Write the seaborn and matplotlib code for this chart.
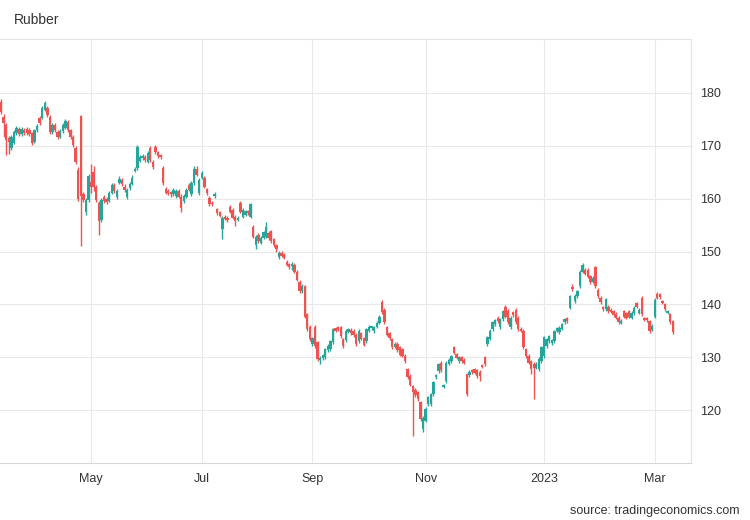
import numpy as np
import pandas as pd
import matplotlib
matplotlib.use("Agg")
import matplotlib.pyplot as plt
import seaborn as sns

# daily candles, Mar 2022 - Mar 2023
opens = [
    178.3, 175.5, 174.0, 171.5, 169.6, 170.6, 172.5, 173.1, 172.2, 173.0,
    173.2, 173.0, 172.4, 170.8, 173.0, 175.3, 175.3, 176.8, 177.2, 175.5,
    172.6, 174.0, 172.6, 171.7, 172.8, 173.4, 174.5, 172.9, 171.7, 169.6,
    165.5, 175.6, 160.8, 157.5, 159.8, 163.2, 165.0, 162.2, 159.2, 156.0,
    160.3, 160.0, 159.6, 161.1, 162.6, 160.4, 163.0, 163.6, 162.3, 160.4,
    162.0, 162.8, 165.3, 165.8, 167.2, 167.6, 167.9, 167.0, 169.6, 167.0,
    169.8, 168.8, 168.2, 165.8, 161.9, 161.5, 161.2, 160.8, 160.5, 161.5,
    160.4, 159.5, 160.4, 162.6, 160.8, 163.0, 165.7, 161.1, 164.0, 164.0,
    161.8, 160.2, 159.2, 160.5, 158.0, 157.4, 154.2, 156.6, 156.4, 158.5,
    157.9, 156.6, 156.0, 159.2, 156.6, 157.0, 157.6, 156.6, 154.7, 151.3,
    153.2, 151.7, 152.6, 152.8, 153.5, 153.8, 152.3, 151.2, 148.9, 149.8,
    149.5, 148.1, 147.6, 147.2, 147.5, 146.2, 144.3, 142.5, 143.4, 138.1,
    135.8, 132.5, 135.8, 132.8, 129.4, 129.8, 130.0, 131.3, 131.5, 132.8,
    135.5, 135.7, 135.7, 133.4, 133.2, 134.8, 135.2, 135.0, 134.3, 133.0,
    134.5, 133.6, 133.0, 135.0, 135.5, 134.9, 135.8, 136.5, 140.4, 139.0,
    135.7, 134.5, 133.4, 132.0, 132.5, 131.9, 131.5, 130.3, 127.7, 126.5,
    124.5, 123.8, 123.4, 121.5, 116.4, 118.0, 121.1, 121.1, 123.0, 126.2,
    127.4, 128.9, 124.4, 125.5, 128.8, 129.2, 131.9, 130.6, 129.3, 130.0,
    129.5, 126.8, 126.6, 127.4, 127.7, 127.5, 127.2, 128.4, 130.0, 132.5,
    133.5, 135.3, 136.2, 137.5, 135.7, 137.2, 139.6, 138.8, 135.7, 138.5,
    139.0, 137.5, 135.4, 135.0, 131.5, 130.3, 129.2, 128.8, 128.0, 127.7,
    129.2, 130.2, 132.1, 133.0, 132.7, 133.0, 135.0, 134.7, 135.4, 136.6,
    137.4, 139.4, 143.2, 140.6, 141.5, 143.4, 146.2, 146.6, 146.6, 145.3,
    144.3, 147.0, 142.8, 141.3, 139.4, 139.1, 139.6, 139.0, 138.7, 138.2,
    137.5, 136.5, 138.7, 138.3, 138.7, 137.5, 138.3, 140.2, 138.4, 141.3,
    137.4, 137.3, 136.8, 135.2, 137.7, 142.0, 141.9, 140.5, 140.0, 138.4,
    138.1, 136.8,
]
closes = [
    176.4, 174.3, 171.1, 170.8, 171.7, 172.6, 173.4, 172.2, 173.2, 172.4,
    172.5, 172.2, 170.6, 172.9, 173.8, 174.3, 177.2, 178.1, 175.8, 172.6,
    174.0, 173.0, 171.7, 172.8, 174.0, 174.7, 172.9, 171.7, 170.2, 167.0,
    160.0, 160.5, 159.8, 159.8, 164.2, 162.2, 162.2, 159.8, 155.7, 159.8,
    159.5, 159.4, 161.1, 162.6, 161.5, 161.5, 163.8, 162.8, 161.6, 161.7,
    162.8, 164.0, 165.6, 169.8, 167.8, 168.0, 167.4, 168.7, 167.4, 166.0,
    168.8, 168.0, 167.8, 163.0, 161.1, 161.0, 160.8, 161.7, 161.5, 160.4,
    158.3, 160.5, 161.7, 161.7, 163.0, 165.7, 164.5, 163.6, 164.9, 162.3,
    161.0, 158.9, 158.9, 160.9, 157.2, 156.8, 156.4, 156.2, 155.9, 157.5,
    156.4, 155.7, 156.4, 157.5, 157.9, 157.6, 157.2, 158.9, 152.8, 152.8,
    152.0, 152.6, 153.6, 154.7, 152.5, 152.0, 151.2, 150.4, 149.8, 149.2,
    148.8, 147.5, 147.0, 147.5, 146.2, 144.7, 142.5, 143.4, 137.7, 135.3,
    133.4, 133.6, 132.1, 129.6, 129.8, 130.4, 131.5, 132.2, 133.0, 135.3,
    135.0, 135.2, 134.0, 132.1, 135.0, 135.3, 134.6, 134.2, 132.5, 135.0,
    133.5, 132.4, 135.3, 135.8, 135.7, 135.7, 136.5, 137.7, 138.5, 136.6,
    134.3, 133.6, 131.9, 132.6, 131.3, 130.5, 130.3, 129.2, 126.2, 124.8,
    123.4, 122.8, 122.1, 118.3, 118.5, 120.2, 122.4, 123.0, 125.3, 126.6,
    128.7, 127.6, 124.7, 129.0, 129.5, 130.2, 130.9, 129.9, 130.0, 129.2,
    129.0, 123.0, 127.2, 127.2, 127.1, 126.4, 126.4, 128.2, 128.7, 133.8,
    135.0, 136.6, 137.0, 136.8, 137.2, 138.7, 137.7, 136.6, 137.5, 138.0,
    136.6, 135.3, 135.0, 131.9, 130.2, 129.0, 127.7, 128.0, 128.8, 129.7,
    131.9, 133.8, 133.4, 134.0, 133.2, 134.9, 135.5, 135.6, 136.2, 137.2,
    136.8, 141.5, 142.9, 141.6, 142.5, 146.2, 147.5, 145.8, 145.2, 144.2,
    145.0, 143.4, 141.5, 140.4, 139.1, 141.0, 138.7, 138.6, 138.0, 137.5,
    136.6, 136.9, 137.7, 137.5, 137.7, 138.4, 139.4, 139.6, 139.0, 138.1,
    137.1, 137.0, 134.9, 136.0, 140.9, 141.3, 141.4, 140.3, 139.1, 138.6,
    136.6, 134.7,
]
highs = [
    178.8, 176.0, 174.4, 171.9, 172.1, 172.9, 173.8, 173.5, 173.6, 173.4,
    173.6, 173.3, 172.7, 173.2, 174.2, 175.7, 177.5, 178.5, 177.6, 175.8,
    174.4, 174.3, 173.0, 173.1, 174.3, 175.0, 174.8, 173.2, 172.0, 169.9,
    165.9, 175.8, 161.2, 160.2, 164.6, 166.5, 166.2, 162.5, 159.6, 160.2,
    160.7, 160.4, 161.5, 163.0, 163.0, 161.9, 164.2, 164.0, 162.7, 162.1,
    163.2, 164.4, 166.0, 170.2, 168.2, 168.4, 168.2, 169.0, 170.0, 167.4,
    170.1, 169.1, 168.5, 166.2, 162.2, 161.8, 161.5, 162.0, 161.9, 161.8,
    160.8, 160.9, 162.0, 163.0, 163.3, 166.1, 166.2, 164.0, 165.3, 164.3,
    162.1, 160.5, 159.5, 161.2, 158.3, 157.7, 156.8, 156.9, 156.7, 158.8,
    158.2, 156.9, 156.7, 159.6, 158.2, 157.9, 157.9, 159.2, 155.0, 153.1,
    153.5, 152.9, 153.9, 155.6, 153.8, 154.1, 152.6, 151.5, 150.1, 150.1,
    149.8, 148.4, 147.9, 148.0, 147.8, 146.5, 144.6, 143.8, 143.7, 138.4,
    136.1, 133.9, 136.1, 133.1, 130.2, 130.7, 131.8, 132.5, 133.3, 135.6,
    135.8, 136.0, 136.0, 133.7, 135.3, 135.6, 135.5, 135.3, 134.6, 135.3,
    134.8, 133.9, 135.6, 136.1, 136.0, 136.0, 136.8, 138.0, 140.8, 139.3,
    136.0, 134.8, 133.7, 132.9, 132.8, 132.2, 131.8, 130.6, 128.0, 126.8,
    124.8, 124.1, 123.7, 121.8, 118.8, 120.5, 122.7, 123.3, 125.6, 126.9,
    129.0, 129.2, 125.0, 129.3, 129.8, 130.5, 132.2, 130.9, 130.3, 130.3,
    129.8, 127.1, 127.5, 127.7, 128.0, 127.8, 127.5, 128.7, 130.3, 134.1,
    135.3, 136.9, 137.3, 137.8, 137.5, 139.0, 139.9, 139.1, 137.8, 138.8,
    139.3, 137.8, 135.7, 135.3, 131.8, 130.6, 129.5, 129.1, 129.1, 130.0,
    132.2, 134.1, 133.7, 134.3, 133.5, 135.2, 135.8, 135.9, 136.5, 137.5,
    137.7, 141.8, 143.8, 141.9, 142.8, 146.5, 147.8, 146.9, 146.9, 145.6,
    145.3, 147.3, 143.1, 141.6, 139.7, 141.3, 139.9, 139.3, 139.0, 138.5,
    137.8, 137.2, 139.0, 138.6, 139.0, 138.7, 139.7, 140.5, 139.3, 141.6,
    137.7, 137.6, 137.1, 136.3, 141.2, 142.3, 142.2, 140.8, 140.3, 138.9,
    138.4, 137.1,
]
lows = [
    176.0, 171.7, 168.3, 168.4, 169.2, 170.3, 172.1, 171.8, 171.9, 172.0,
    172.1, 171.8, 170.2, 170.5, 172.7, 174.0, 175.0, 176.5, 175.4, 172.2,
    172.3, 172.6, 171.3, 171.4, 172.5, 173.1, 172.6, 171.3, 169.8, 166.6,
    159.6, 151.0, 159.4, 157.0, 159.4, 161.0, 161.5, 159.4, 153.2, 155.6,
    159.1, 159.0, 159.3, 160.8, 161.1, 160.0, 162.7, 162.4, 161.2, 160.0,
    161.6, 162.5, 165.0, 165.4, 166.9, 167.3, 167.0, 166.7, 167.0, 165.7,
    168.5, 167.7, 167.5, 162.5, 160.8, 160.7, 160.4, 160.5, 160.2, 160.1,
    157.4, 159.2, 160.1, 161.4, 160.5, 162.6, 164.2, 160.7, 163.7, 162.0,
    160.7, 158.6, 158.6, 160.2, 156.9, 156.5, 152.3, 155.9, 155.6, 157.2,
    156.1, 154.8, 155.7, 157.2, 156.3, 156.7, 156.9, 156.3, 152.5, 150.5,
    151.7, 151.4, 152.3, 152.5, 152.2, 151.7, 150.9, 150.0, 148.5, 148.9,
    148.5, 147.2, 146.7, 146.5, 145.9, 144.4, 142.2, 142.2, 137.4, 135.0,
    133.1, 132.2, 131.8, 129.3, 128.8, 129.5, 129.7, 131.0, 131.2, 132.5,
    134.7, 134.9, 133.7, 131.8, 132.9, 134.5, 134.3, 133.9, 132.2, 132.7,
    133.2, 132.1, 132.7, 134.7, 135.2, 134.6, 135.5, 136.2, 138.2, 136.3,
    134.0, 133.3, 131.6, 131.7, 131.0, 130.2, 130.0, 128.9, 125.9, 124.5,
    115.1, 122.5, 121.8, 118.0, 115.8, 117.7, 120.8, 120.8, 122.7, 125.9,
    127.1, 127.3, 124.1, 125.2, 128.5, 128.9, 130.6, 129.6, 129.0, 128.9,
    128.7, 122.7, 126.3, 126.9, 126.8, 126.1, 125.6, 127.9, 128.4, 132.2,
    133.2, 135.0, 135.9, 136.5, 135.4, 136.9, 137.4, 136.3, 135.4, 137.7,
    136.3, 135.0, 134.7, 131.6, 129.9, 128.7, 126.8, 122.1, 127.7, 127.4,
    128.9, 129.9, 131.8, 132.7, 132.4, 132.7, 134.7, 134.4, 135.1, 136.3,
    136.5, 139.1, 142.5, 140.3, 141.2, 143.1, 145.9, 145.5, 144.9, 143.9,
    144.0, 143.1, 141.2, 140.1, 138.8, 138.8, 138.4, 138.3, 137.7, 137.2,
    136.3, 136.2, 137.4, 137.2, 137.4, 137.2, 138.0, 139.3, 138.1, 137.8,
    136.8, 136.7, 134.6, 134.9, 137.4, 141.0, 141.1, 140.0, 138.8, 138.1,
    136.3, 134.4,
]

# candle index of the first trading day of each labelled month
tick_pos = [35, 78, 121, 165, 211, 254]
tick_labels = ["May", "Jul", "Sep", "Nov", "2023", "Mar"]
y_ticks = [120, 130, 140, 150, 160, 170, 180]

UP = "#26a69a"
DOWN = "#ef5350"
TEXT = "#333333"
GRID = "#e9e9e9"

sns.set_theme(style="white")
plt.rcParams["font.family"] = ["Liberation Sans", "DejaVu Sans"]

df = pd.DataFrame({"open": opens, "high": highs, "low": lows, "close": closes})
df["idx"] = np.arange(len(df))
df["color"] = np.where(df["close"] >= df["open"], UP, DOWN)
df["bottom"] = df[["open", "close"]].min(axis=1)
df["height"] = (df["close"] - df["open"]).abs().clip(lower=0.35)

fig = plt.figure(figsize=(7.5, 5.2), dpi=100)
ax = fig.add_axes([0.0, 0.1096, 0.9213, 0.8154])

# grid
for p in tick_pos:
    ax.axvline(p, color=GRID, lw=0.8, zorder=0)
for y in y_ticks:
    ax.axhline(y, color=GRID, lw=0.8, zorder=0)

# candles
ax.vlines(df["idx"], df["low"], df["high"], colors=df["color"], lw=1.0, zorder=2)
ax.bar(df["idx"], df["height"], bottom=df["bottom"], width=0.92,
       color=df["color"], linewidth=0, zorder=3)

ax.set_xlim(-0.4, 268.1)
ax.set_ylim(110, 190.2)

ax.set_xticks(tick_pos)
ax.set_xticklabels(tick_labels)
ax.set_yticks(y_ticks)
ax.yaxis.tick_right()
ax.tick_params(axis="x", length=0, pad=7, labelsize=9, colors=TEXT)
ax.tick_params(axis="y", length=0, pad=6.5, labelsize=9, colors=TEXT)

ax.spines["left"].set_visible(False)
ax.spines["top"].set_color("#e4e4e4")
ax.spines["right"].set_color("#e4e4e4")
ax.spines["bottom"].set_color("#d6d6d6")
for s in ["top", "right", "bottom"]:
    ax.spines[s].set_linewidth(0.8)

fig.text(14 / 750, 1 - 20 / 520, "Rubber", fontsize=10, color=TEXT, va="center", ha="left")
fig.text(740 / 750, 1 - 511 / 520, "source: tradingeconomics.com", fontsize=9,
         color=TEXT, va="center", ha="right")

fig.savefig("out.png", dpi=100)
